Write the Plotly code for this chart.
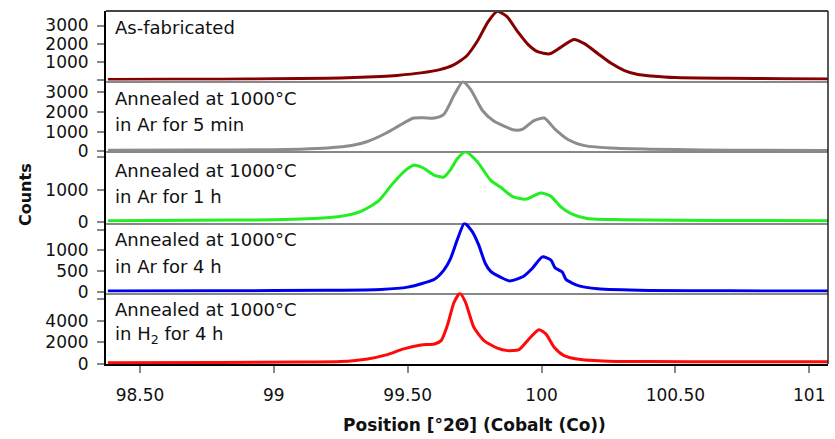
import plotly.graph_objects as go
from plotly.subplots import make_subplots

# Diffraction angle ticks (shared x axis)
x_tickvals = [98.5, 99, 99.5, 100, 100.5, 101]
x_ticktext = ["98.50", "99", "99.50", "100", "100.50", "101"]

# As-fabricated
pos_asfab = [98.38, 98.6, 98.8, 99.0, 99.2, 99.3, 99.4, 99.46, 99.55, 99.62, 99.67, 99.72, 99.76,
             99.80, 99.835, 99.87, 99.91, 99.95, 99.985, 100.03, 100.07, 100.12, 100.16, 100.21,
             100.26, 100.31, 100.36, 100.41, 100.5, 100.7, 100.9, 101.07]
cnt_asfab = [30, 35, 45, 60, 100, 130, 190, 250, 390, 570, 820, 1320, 2130,
             3200, 3780, 3500, 2680, 1950, 1560, 1440, 1780, 2230, 2000, 1460,
             920, 520, 300, 220, 130, 90, 70, 50]

# Annealed 1000 °C, Ar, 5 min
pos_ar5m = [98.38, 98.7, 99.0, 99.1, 99.2, 99.29, 99.35, 99.42, 99.47, 99.52, 99.56, 99.6, 99.635,
            99.675, 99.706, 99.735, 99.78, 99.82, 99.86, 99.9, 99.93, 99.97, 100.01, 100.05, 100.1,
            100.16, 100.28, 100.4, 100.6, 100.8, 101.07]
cnt_ar5m = [50, 60, 80, 110, 170, 290, 500, 930, 1320, 1680, 1700, 1690, 1880,
            2900, 3540, 3150, 2060, 1550, 1280, 1080, 1130, 1550, 1690, 1130, 590,
            290, 150, 110, 70, 50, 40]

# Annealed 1000 °C, Ar, 1 h
pos_ar1h = [98.38, 98.7, 99.0, 99.15, 99.24, 99.32, 99.39, 99.44, 99.485, 99.523, 99.56, 99.598,
            99.635, 99.66, 99.685, 99.716, 99.76, 99.81, 99.85, 99.89, 99.94, 99.997, 100.034,
            100.072, 100.11, 100.17, 100.3, 100.5, 100.8, 101.07]
cnt_ar1h = [50, 60, 80, 120, 170, 320, 650, 1150, 1550, 1750, 1660, 1450,
            1390, 1620, 1950, 2165, 1860, 1290, 1060, 800, 710, 900, 805,
            475, 270, 120, 80, 65, 55, 50]

# Annealed 1000 °C, Ar, 4 h
pos_ar4h = [98.38, 98.8, 99.2, 99.4, 99.5, 99.56, 99.6, 99.635, 99.66, 99.685, 99.712, 99.74,
            99.765, 99.79, 99.81, 99.85, 99.88, 99.93, 99.965, 100.003, 100.035, 100.05, 100.065,
            100.078, 100.092, 100.14, 100.21, 100.4, 100.7, 101.07]
cnt_ar4h = [15, 20, 35, 55, 110, 210, 300, 520, 800, 1250, 1650, 1460,
            1130, 680, 490, 340, 260, 360, 560, 840, 760, 580, 520,
            470, 290, 140, 70, 30, 20, 15]

# Annealed 1000 °C, H2, 4 h
pos_h24h = [98.38, 98.8, 99.1, 99.25, 99.35, 99.42, 99.485, 99.55, 99.6, 99.625, 99.648, 99.673,
            99.695, 99.716, 99.747, 99.785, 99.835, 99.872, 99.916, 99.953, 99.99, 100.016,
            100.047, 100.084, 100.147, 100.25, 100.4, 100.7, 101.07]
cnt_h24h = [110, 130, 170, 215, 460, 835, 1390, 1760, 1850, 2160, 3550, 5700,
            6550, 5710, 3400, 2160, 1455, 1230, 1325, 2315, 3175, 2780,
            1545, 770, 400, 250, 215, 200, 200]

panels = [
    (pos_asfab, cnt_asfab, "#850000", ["As-fabricated"]),
    (pos_ar5m, cnt_ar5m, "#8c8c8c", ["Annealed at 1000°C", "in Ar for 5 min"]),
    (pos_ar1h, cnt_ar1h, "#22ee22", ["Annealed at 1000°C", "in Ar for 1 h"]),
    (pos_ar4h, cnt_ar4h, "#0000ee", ["Annealed at 1000°C", "in Ar for 4 h"]),
    (pos_h24h, cnt_h24h, "#ff0a0a", ["Annealed at 1000°C", "in H<sub>2</sub> for 4 h"]),
]

y_ranges = [[-30, 3800], [-10, 3600], [-6, 2175], [-20, 1670], [-10, 6620]]
# labelled ticks, plus unlabelled ticks where a label would collide with the next panel
y_major = [[1000, 2000, 3000], [0, 1000, 2000, 3000], [0, 1000], [0, 500, 1000], [0, 2000, 4000]]
y_minor = [[0], [], [2000], [1500], [6000]]
domains = [[0.8031, 1.0], [0.6020, 0.8031], [0.4008, 0.6020], [0.2025, 0.4008], [0.0, 0.2025]]

FONT = "DejaVu Sans"
W, H = 835, 439
ML, MR, MT, MB = 106, 7, 11, 75
PH = H - MT - MB
PW = W - ML - MR

fig = make_subplots(rows=5, cols=1, shared_xaxes=True, vertical_spacing=0)

for i, (xs, ys, col, _) in enumerate(panels):
    fig.add_trace(go.Scatter(x=xs, y=ys, mode="lines",
                             line=dict(color=col, width=3, shape="spline", smoothing=0.6),
                             showlegend=False), row=i + 1, col=1)

for i in range(5):
    r = i + 1
    minor = dict(tickmode="array", tickvals=y_minor[i], ticks="outside", ticklen=7,
                 tickwidth=2, tickcolor="#888888", showgrid=False) if y_minor[i] else None
    fig.update_yaxes(row=r, col=1, domain=domains[i], range=y_ranges[i],
                     tickvals=y_major[i], ticktext=[str(v) for v in y_major[i]],
                     ticks="outside", ticklen=7, tickwidth=2,
                     tickcolor="#888888", showline=True, linecolor="black", linewidth=2,
                     showgrid=False, zeroline=False, ticklabelstandoff=5,
                     tickfont=dict(family=FONT, size=17, color="#111111"))
    if minor:
        fig.update_yaxes(row=r, col=1, minor=minor)
    last = (r == 5)
    fig.update_xaxes(row=r, col=1, range=[98.373, 101.07], showgrid=False, zeroline=False,
                     showline=True, linecolor="black" if last else "#888888", linewidth=2,
                     tickvals=x_tickvals, ticktext=x_ticktext,
                     ticks="outside" if last else "", ticklen=7, tickwidth=2, tickcolor="#888888",
                     showticklabels=last, ticklabelstandoff=8,
                     tickfont=dict(family=FONT, size=17, color="#111111"))

annotations = []
line_px = [[27.7], [98.3, 124.3], [170.7, 196.7], [239.3, 266.0], [309.3, 335.3]]
for i, (_, _, _, lines) in enumerate(panels):
    for txt, py in zip(lines, line_px[i]):
        annotations.append(dict(xref="paper", yref="paper", x=(113 - ML) / PW,
                                y=(H - MB - py) / PH, xanchor="left", yanchor="middle",
                                text=txt, showarrow=False,
                                font=dict(family=FONT, size=18, color="#111111")))

annotations.append(dict(xref="paper", yref="paper", x=(474.5 - ML) / PW, y=(H - MB - 425) / PH,
                        xanchor="center", yanchor="middle", showarrow=False,
                        text="<b>Position [°2Θ] (Cobalt (Co))</b>",
                        font=dict(family=FONT, size=17, color="#111111")))
annotations.append(dict(xref="paper", yref="paper", x=(25 - ML) / PW, y=(H - MB - 195) / PH,
                        xanchor="center", yanchor="middle", showarrow=False, textangle=-90,
                        text="<b>Counts</b>",
                        font=dict(family=FONT, size=16, color="#111111")))

shapes = [
    dict(type="line", xref="paper", yref="paper", x0=0, x1=1, y0=1, y1=1,
         line=dict(color="#444444", width=2)),
    dict(type="line", xref="paper", yref="paper", x0=1, x1=1, y0=0, y1=1,
         line=dict(color="#222222", width=1.5)),
]

fig.update_layout(width=W, height=H, margin=dict(l=ML, r=MR, t=MT, b=MB),
                  plot_bgcolor="white", paper_bgcolor="white",
                  annotations=annotations, shapes=shapes)

fig.write_html("out.html")
